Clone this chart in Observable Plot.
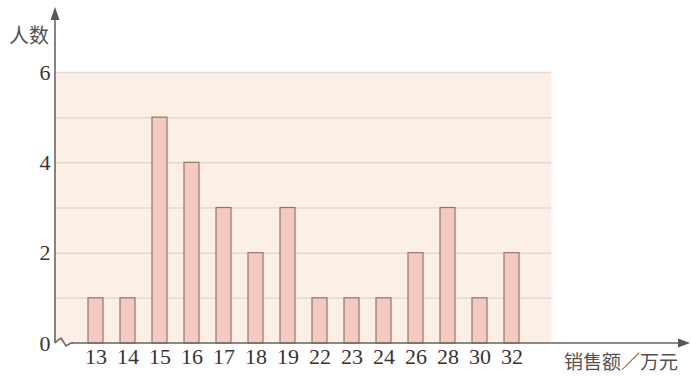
<!DOCTYPE html>
<html>
<head>
<meta charset="utf-8">
<script src="https://cdn.jsdelivr.net/npm/d3@7"></script>
<script src="https://cdn.jsdelivr.net/npm/@observablehq/plot@0.6"></script>
<style>
  html, body { margin: 0; padding: 0; background: #ffffff; }
  #chart { width: 691px; height: 376px; }
</style>
</head>
<body>
<div id="chart"></div>
<script>
const categories = ["13", "14", "15", "16", "17", "18", "19", "22", "23", "24", "26", "28", "30", "32"];
const counts = [1, 1, 5, 4, 3, 2, 3, 1, 1, 1, 2, 3, 1, 2];
const yTicks = [0, 2, 4, 6];
const gridValues = [1, 2, 3, 4, 5, 6];
const yLabel = "人数";
const xLabel = "销售额／万元";

const data = categories.map((c, i) => ({sales: c, count: counts[i]}));

const W = 691, H = 376;
const mL = 55, mR = 140, mT = 72, mB = 33;
const serif = "Liberation Serif";

const chart = Plot.plot({
  width: W,
  height: H,
  marginLeft: mL,
  marginRight: mR,
  marginTop: mT,
  marginBottom: mB,
  style: {fontFamily: serif, fontSize: "22px", color: "#3a3333", background: "#ffffff"},
  x: {type: "band", domain: categories, paddingInner: 0.54, paddingOuter: 0.855, align: 0.5, axis: null},
  y: {domain: [0, 6], axis: null},
  marks: [
    Plot.frame({fill: "#fcefe5", stroke: null}),
    Plot.ruleY(gridValues, {stroke: "#e2d9d5", strokeWidth: 1.5}),
    Plot.barY(data, {x: "sales", y: "count", fill: "#f7c8c0", stroke: "#8a7874", strokeWidth: 1.2}),
    Plot.axisX({tickSize: 0, tickPadding: 5, fontSize: 22, fontFamily: serif, fill: "#3a3333", label: null}),
    Plot.axisY(yTicks, {tickSize: 0, tickPadding: 5, fontSize: 22, fontFamily: serif, fill: "#3a3333", label: null})
  ]
});

document.getElementById("chart").appendChild(chart);

const svg = d3.select(chart);
svg.selectAll("text").attr("font-family", serif).style("font-family", serif);

// axis lines with arrows and the origin break
const y = chart.scale("y");
const x0 = mL;
const y0 = y.apply(0);
const g = svg.append("g").attr("fill", "none").attr("stroke", "#6b6463").attr("stroke-width", 1.6);
g.append("line").attr("x1", x0).attr("x2", x0).attr("y1", y0).attr("y2", 14);
svg.append("path").attr("d", `M${x0},7 L${x0 - 4.5},20 L${x0 + 4.5},20 Z`).attr("fill", "#5a5453");
g.append("path").attr("d", `M${x0},${y0} L${x0 + 3},${y0 - 3} L${x0 + 6},${y0 - 5} L${x0 + 11},${y0 + 3} L${x0 + 16},${y0} L${x0 + 18},${y0}`);
g.append("line").attr("x1", x0 + 17).attr("x2", W - 6).attr("y1", y0).attr("y2", y0);
svg.append("path").attr("d", `M${W - 1},${y0} L${W - 13},${y0 - 4.5} L${W - 13},${y0 + 4.5} Z`).attr("fill", "#5a5453");

// axis labels
svg.append("text").text(yLabel)
  .attr("x", 29).attr("y", 43)
  .attr("text-anchor", "middle")
  .style("font-family", "'Noto Sans CJK SC', sans-serif")
  .attr("font-size", 20)
  .attr("fill", "#555050");
svg.append("text").text(xLabel)
  .attr("x", 621).attr("y", 369)
  .attr("text-anchor", "middle")
  .style("font-family", "'Noto Sans CJK SC', sans-serif")
  .attr("font-size", 19)
  .attr("fill", "#555050");
</script>
</body>
</html>
